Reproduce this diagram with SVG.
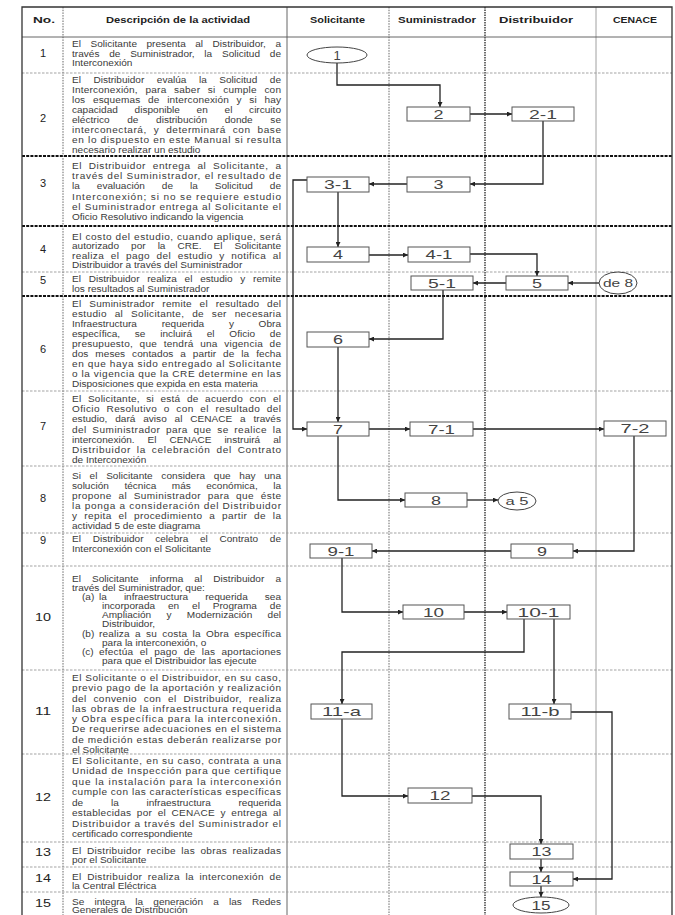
<svg xmlns="http://www.w3.org/2000/svg" width="675" height="915" viewBox="0 0 675 915">
<defs>
<marker id="ah" viewBox="0 0 6 6" refX="6" refY="3" markerWidth="5" markerHeight="5" markerUnits="userSpaceOnUse" orient="auto"><path d="M0,0 L6,3 L0,6 z" fill="#222"/></marker>
<style>
.bg{fill:#fff}
.border{fill:none;stroke:#333;stroke-width:1.3}
.vs{stroke:#555;stroke-width:0.9}
.vd{stroke:#555;stroke-width:0.9;stroke-dasharray:1.5 1.2}
.vdk{stroke:#222;stroke-width:1.3;stroke-dasharray:1.5 1}
.vl{stroke:#888;stroke-width:0.8}
.rt{stroke:#999;stroke-width:0.9;stroke-dasharray:2.5 1.5}
.rk{stroke:#111;stroke-width:1.8;stroke-dasharray:3 1.2}
.hd{font-family:"Liberation Sans",Arial,sans-serif;font-weight:bold;font-size:8.5px;fill:#222;text-anchor:middle}
.num{font-family:"Liberation Sans",Arial,sans-serif;font-size:11px;fill:#222;text-anchor:middle}
.d{font-family:"Liberation Sans",Arial,sans-serif;font-size:8.6px;fill:#3a3a3a}
.box rect{fill:#fff;stroke:#555;stroke-width:1}
.box ellipse{fill:#fff;stroke:#444;stroke-width:1}
.box text{font-family:"Liberation Sans",Arial,sans-serif;font-size:13px;fill:#444;text-anchor:middle}
.box text.s{font-size:10px}
.conn path{fill:none;stroke:#222;stroke-width:1.3;marker-end:url(#ah)}
</style>
</defs>
<rect class="bg" x="0" y="0" width="675" height="915"/>
<g id="grid">
<line class="vd" x1="63" y1="7" x2="63" y2="915"/>
<line class="vs" x1="287" y1="7" x2="287" y2="915"/>
<line class="vd" x1="389" y1="7" x2="389" y2="915"/>
<line class="vdk" x1="485" y1="7" x2="485" y2="915"/>
<line class="vl" x1="596" y1="7" x2="596" y2="915"/>
<line class="vs" x1="22" y1="37" x2="672" y2="37"/>
<line class="rt" x1="22" y1="73" x2="672" y2="73"/>
<line class="rk" x1="22" y1="156" x2="672" y2="156"/>
<line class="rk" x1="22" y1="226" x2="672" y2="226"/>
<line class="rt" x1="22" y1="272" x2="672" y2="272"/>
<line class="rk" x1="22" y1="296" x2="672" y2="296"/>
<line class="rt" x1="22" y1="391" x2="672" y2="391"/>
<line class="rt" x1="22" y1="466" x2="672" y2="466"/>
<line class="rt" x1="22" y1="533" x2="672" y2="533"/>
<line class="rt" x1="22" y1="566" x2="672" y2="566"/>
<line class="rt" x1="22" y1="670" x2="672" y2="670"/>
<line class="rt" x1="22" y1="754" x2="672" y2="754"/>
<line class="rt" x1="22" y1="842" x2="672" y2="842"/>
<line class="rt" x1="22" y1="867" x2="672" y2="867"/>
<line class="rt" x1="22" y1="892" x2="672" y2="892"/>
<path class="border" d="M22,915 V7 H672 V915"/>
</g>
<g id="header">
<text class="hd" x="44" y="23" textLength="22" lengthAdjust="spacingAndGlyphs">No.</text>
<text class="hd" x="178" y="23" textLength="144" lengthAdjust="spacingAndGlyphs">Descripción de la actividad</text>
<text class="hd" x="337.5" y="23" textLength="55" lengthAdjust="spacingAndGlyphs">Solicitante</text>
<text class="hd" x="437" y="23" textLength="78" lengthAdjust="spacingAndGlyphs">Suministrador</text>
<text class="hd" x="536" y="23" textLength="74" lengthAdjust="spacingAndGlyphs">Distribuidor</text>
<text class="hd" x="635" y="23" textLength="44" lengthAdjust="spacingAndGlyphs">CENACE</text>
</g>
<g id="numbers">
<text class="num" x="43" y="57">1</text>
<text class="num" x="43" y="122">2</text>
<text class="num" x="43" y="187">3</text>
<text class="num" x="43" y="253">4</text>
<text class="num" x="43" y="284">5</text>
<text class="num" x="43" y="353">6</text>
<text class="num" x="43" y="430">7</text>
<text class="num" x="43" y="502">8</text>
<text class="num" x="43" y="544">9</text>
<text class="num" x="43" y="621" textLength="16" lengthAdjust="spacingAndGlyphs">10</text>
<text class="num" x="43" y="715" textLength="16" lengthAdjust="spacingAndGlyphs">11</text>
<text class="num" x="43" y="801" textLength="16" lengthAdjust="spacingAndGlyphs">12</text>
<text class="num" x="43" y="856" textLength="16" lengthAdjust="spacingAndGlyphs">13</text>
<text class="num" x="43" y="882" textLength="16" lengthAdjust="spacingAndGlyphs">14</text>
<text class="num" x="43" y="907" textLength="16" lengthAdjust="spacingAndGlyphs">15</text>
</g>
<g id="descriptions" transform="scale(1.17,1)">
<g id="desc-1">
<text class="d" x="61.54" y="47.5" textLength="178.63" word-spacing="5.7">El Solicitante presenta al Distribuidor, a</text>
<text class="d" x="61.54" y="57" textLength="178.63" word-spacing="5.9">través de Suministrador, la Solicitud de</text>
<text class="d" x="61.54" y="66.5">Interconexión</text>
</g>
<g id="desc-2">
<text class="d" x="61.54" y="83.5" textLength="178.63" word-spacing="8.3">El Distribuidor evalúa la Solicitud de</text>
<text class="d" x="61.54" y="93.5" textLength="178.63" word-spacing="4">Interconexión, para saber si cumple con</text>
<text class="d" x="61.54" y="103.5" textLength="178.63" word-spacing="4">los esquemas de interconexión y si hay</text>
<text class="d" x="61.54" y="113.5" textLength="178.63" word-spacing="11.9">capacidad disponible en el circuito</text>
<text class="d" x="61.54" y="123.5" textLength="178.63" word-spacing="12.7">eléctrico de distribución donde se</text>
<text class="d" x="61.54" y="133.5" textLength="178.63" word-spacing="3">interconectará, y determinará con base</text>
<text class="d" x="61.54" y="143.5" textLength="178.63">en lo dispuesto en este Manual si resulta</text>
<text class="d" x="61.54" y="153.5">necesario realizar un estudio</text>
</g>
<g id="desc-3">
<text class="d" x="61.54" y="169" textLength="178.63" word-spacing="3">El Distribuidor entrega al Solicitante, a</text>
<text class="d" x="61.54" y="179.2" textLength="178.63">través del Suministrador, el resultado de</text>
<text class="d" x="61.54" y="189.4" textLength="178.63" word-spacing="12.1">la evaluación de la Solicitud de</text>
<text class="d" x="61.54" y="199.6" textLength="178.63">Interconexión; si no se requiere estudio</text>
<text class="d" x="61.54" y="209.8" textLength="178.63">el Suministrador entrega al Solicitante el</text>
<text class="d" x="61.54" y="220">Oficio Resolutivo indicando la vigencia</text>
</g>
<g id="desc-4">
<text class="d" x="61.54" y="240" textLength="178.63">El costo del estudio, cuando aplique, será</text>
<text class="d" x="61.54" y="249.5" textLength="178.63" word-spacing="7.9">autorizado por la CRE. El Solicitante</text>
<text class="d" x="61.54" y="259" textLength="178.63" word-spacing="3">realiza el pago del estudio y notifica al</text>
<text class="d" x="61.54" y="268.5">Distribuidor a través del Suministrador</text>
</g>
<g id="desc-5">
<text class="d" x="61.54" y="282" textLength="178.63" word-spacing="4.2">El Distribuidor realiza el estudio y remite</text>
<text class="d" x="61.54" y="292">los resultados al Suministrador</text>
</g>
<g id="desc-6">
<text class="d" x="61.54" y="307" textLength="178.63" word-spacing="4">El Suministrador remite el resultado del</text>
<text class="d" x="61.54" y="317" textLength="178.63" word-spacing="4">estudio al Solicitante, de ser necesaria</text>
<text class="d" x="61.54" y="327" textLength="178.63" word-spacing="18.7">Infraestructura requerida y Obra</text>
<text class="d" x="61.54" y="337" textLength="178.63" word-spacing="10.2">específica, se incluirá el Oficio de</text>
<text class="d" x="61.54" y="347" textLength="178.63" word-spacing="3">presupuesto, que tendrá una vigencia de</text>
<text class="d" x="61.54" y="357" textLength="178.63" word-spacing="3.5">dos meses contados a partir de la fecha</text>
<text class="d" x="61.54" y="367" textLength="178.63">en que haya sido entregado al Solicitante</text>
<text class="d" x="61.54" y="377" textLength="178.63">o la vigencia que la CRE determine en las</text>
<text class="d" x="61.54" y="387">Disposiciones que expida en esta materia</text>
</g>
<g id="desc-7">
<text class="d" x="61.54" y="402" textLength="178.63" word-spacing="3">El Solicitante, si está de acuerdo con el</text>
<text class="d" x="61.54" y="412.2" textLength="178.63" word-spacing="3">Oficio Resolutivo o con el resultado del</text>
<text class="d" x="61.54" y="422.4" textLength="178.63" word-spacing="4.3">estudio, dará aviso al CENACE a través</text>
<text class="d" x="61.54" y="432.6" textLength="178.63" word-spacing="2">del Suministrador para que se realice la</text>
<text class="d" x="61.54" y="442.8" textLength="178.63" word-spacing="8.7">interconexión. El CENACE instruirá al</text>
<text class="d" x="61.54" y="453" textLength="178.63" word-spacing="2">Distribuidor la celebración del Contrato</text>
<text class="d" x="61.54" y="463.2">de Interconexión</text>
</g>
<g id="desc-8">
<text class="d" x="61.54" y="479" textLength="178.63" word-spacing="5">Si el Solicitante considera que hay una</text>
<text class="d" x="61.54" y="489" textLength="178.63" word-spacing="10.8">solución técnica más económica, la</text>
<text class="d" x="61.54" y="499" textLength="178.63" word-spacing="3">propone al Suministrador para que éste</text>
<text class="d" x="61.54" y="509" textLength="178.63">la ponga a consideración del Distribuidor</text>
<text class="d" x="61.54" y="519" textLength="178.63" word-spacing="3">y repita el procedimiento a partir de la</text>
<text class="d" x="61.54" y="529">actividad 5 de este diagrama</text>
</g>
<g id="desc-9">
<text class="d" x="61.54" y="542" textLength="178.63" word-spacing="7.6">El Distribuidor celebra el Contrato de</text>
<text class="d" x="61.54" y="552.5">Interconexión con el Solicitante</text>
</g>
<g id="desc-10">
<text class="d" x="61.54" y="582" textLength="178.63" word-spacing="7.1">El Solicitante informa al Distribuidor a</text>
<text class="d" x="61.54" y="591.1">través del Suministrador, que:</text>
<text class="d" x="70.09" y="600.2">(a)</text>
<text class="d" x="84.62" y="600.2" textLength="155.56" word-spacing="12.2">la infraestructura requerida sea</text>
<text class="d" x="87.18" y="609.3" textLength="152.99" word-spacing="8.6">incorporada en el Programa de</text>
<text class="d" x="87.18" y="618.4" textLength="152.99" word-spacing="10.7">Ampliación y Modernización del</text>
<text class="d" x="87.18" y="627.5">Distribuidor,</text>
<text class="d" x="70.09" y="636.6">(b)</text>
<text class="d" x="84.62" y="636.6" textLength="155.56" word-spacing="2">realiza a su costa la Obra específica</text>
<text class="d" x="87.18" y="645.7">para la interconexión, o</text>
<text class="d" x="70.09" y="654.8">(c)</text>
<text class="d" x="84.62" y="654.8" textLength="155.56" word-spacing="3">efectúa el pago de las aportaciones</text>
<text class="d" x="87.18" y="663.9">para que el Distribuidor las ejecute</text>
</g>
<g id="desc-11">
<text class="d" x="61.54" y="681" textLength="178.63">El Solicitante o el Distribuidor, en su caso,</text>
<text class="d" x="61.54" y="691.3" textLength="178.63">previo pago de la aportación y realización</text>
<text class="d" x="61.54" y="701.6" textLength="178.63" word-spacing="3">del convenio con el Distribuidor, realiza</text>
<text class="d" x="61.54" y="711.9" textLength="178.63">las obras de la infraestructura requerida</text>
<text class="d" x="61.54" y="722.2" textLength="178.63">y Obra específica para la interconexión.</text>
<text class="d" x="61.54" y="732.5" textLength="178.63">De requerirse adecuaciones en el sistema</text>
<text class="d" x="61.54" y="742.8" textLength="178.63">de medición estas deberán realizarse por</text>
<text class="d" x="61.54" y="753">el Solicitante</text>
</g>
<g id="desc-12">
<text class="d" x="61.54" y="764" textLength="178.63">El Solicitante, en su caso, contrata a una</text>
<text class="d" x="61.54" y="774.5" textLength="178.63">Unidad de Inspección para que certifique</text>
<text class="d" x="61.54" y="785" textLength="178.63">que la instalación para la interconexión</text>
<text class="d" x="61.54" y="795.5" textLength="178.63">cumple con las características específicas</text>
<text class="d" x="61.54" y="806" textLength="178.63" word-spacing="21.3">de la infraestructura requerida</text>
<text class="d" x="61.54" y="816.5" textLength="178.63" word-spacing="2">establecidas por el CENACE y entrega al</text>
<text class="d" x="61.54" y="827" textLength="178.63">Distribuidor a través del Suministrador el</text>
<text class="d" x="61.54" y="837.5">certificado correspondiente</text>
</g>
<g id="desc-13">
<text class="d" x="61.54" y="854" textLength="178.63" word-spacing="2">El Distribuidor recibe las obras realizadas</text>
<text class="d" x="61.54" y="863">por el Solicitante</text>
</g>
<g id="desc-14">
<text class="d" x="61.54" y="880.5" textLength="178.63" word-spacing="2">El Distribuidor realiza la interconexión de</text>
<text class="d" x="61.54" y="889.5">la Central Eléctrica</text>
</g>
<g id="desc-15">
<text class="d" x="61.54" y="905" textLength="178.63" word-spacing="6.3">Se integra la generación a las Redes</text>
<text class="d" x="61.54" y="913.5">Generales de Distribución</text>
</g>
</g>
<g id="connectors" class="conn">
<path d="M337,63 V85 H440 V107"/>
<path d="M470,114 H512"/>
<path d="M543,121 V184 H470"/>
<path d="M407,184 H369"/>
<path d="M307,180 H293 V429 H307"/>
<path d="M338,192 V247"/>
<path d="M369,255 H408"/>
<path d="M470,254 H537 V276"/>
<path d="M506,283 H473"/>
<path d="M599,283 H568"/>
<path d="M443,290 V339 H369"/>
<path d="M338,347 V422"/>
<path d="M369,429 H410"/>
<path d="M473,429 H604"/>
<path d="M338,436 V500 H405"/>
<path d="M467,500 H498"/>
<path d="M634,436 V551 H573"/>
<path d="M511,551 H372"/>
<path d="M342,558 V612 H403"/>
<path d="M464,612 H507"/>
<path d="M524,619 V652 H342 V704"/>
<path d="M554,619 V704"/>
<path d="M571,712 H612 V879 H573"/>
<path d="M342,719 V796 H408"/>
<path d="M472,796 H541 V844"/>
<path d="M541,859 V872"/>
<path d="M541,886 V897"/>
</g>
<g id="n1" class="box"><ellipse cx="337" cy="55" rx="30" ry="8"/><text x="337" y="59.5">1</text></g>
<g id="n2" class="box"><rect x="407" y="107" width="63" height="14"/><text x="438.5" y="118.5" textLength="10" lengthAdjust="spacingAndGlyphs">2</text></g>
<g id="n2-1" class="box"><rect x="512" y="107" width="62" height="14"/><text x="543" y="118.5" textLength="28" lengthAdjust="spacingAndGlyphs">2-1</text></g>
<g id="n3" class="box"><rect x="407" y="177" width="63" height="15"/><text x="438.5" y="189" textLength="10" lengthAdjust="spacingAndGlyphs">3</text></g>
<g id="n3-1" class="box"><rect x="307" y="177" width="62" height="15"/><text x="338" y="189" textLength="28" lengthAdjust="spacingAndGlyphs">3-1</text></g>
<g id="n4" class="box"><rect x="307" y="247" width="62" height="15"/><text x="338" y="259" textLength="10" lengthAdjust="spacingAndGlyphs">4</text></g>
<g id="n4-1" class="box"><rect x="408" y="247" width="62" height="15"/><text x="439" y="259" textLength="27" lengthAdjust="spacingAndGlyphs">4-1</text></g>
<g id="n5" class="box"><rect x="506" y="276" width="62" height="14"/><text x="537" y="287.5" textLength="10" lengthAdjust="spacingAndGlyphs">5</text></g>
<g id="n5-1" class="box"><rect x="411" y="276" width="62" height="14"/><text x="442" y="287.5" textLength="28" lengthAdjust="spacingAndGlyphs">5-1</text></g>
<g id="nde8" class="box"><ellipse cx="618" cy="283" rx="19" ry="11"/><text class="s" x="618" y="286.5" textLength="30" lengthAdjust="spacingAndGlyphs">de 8</text></g>
<g id="n6" class="box"><rect x="307" y="332" width="62" height="15"/><text x="338" y="344" textLength="10" lengthAdjust="spacingAndGlyphs">6</text></g>
<g id="n7" class="box"><rect x="307" y="422" width="62" height="14"/><text x="338" y="433.5" textLength="10" lengthAdjust="spacingAndGlyphs">7</text></g>
<g id="n7-1" class="box"><rect x="410" y="422" width="63" height="14"/><text x="441.5" y="433.5" textLength="27" lengthAdjust="spacingAndGlyphs">7-1</text></g>
<g id="n7-2" class="box"><rect x="604" y="421" width="62" height="15"/><text x="635" y="433" textLength="29" lengthAdjust="spacingAndGlyphs">7-2</text></g>
<g id="n8" class="box"><rect x="405" y="493" width="62" height="14"/><text x="436" y="504.5" textLength="10" lengthAdjust="spacingAndGlyphs">8</text></g>
<g id="na5" class="box"><ellipse cx="517" cy="501" rx="19" ry="9"/><text class="s" x="517" y="504.5" textLength="23" lengthAdjust="spacingAndGlyphs">a 5</text></g>
<g id="n9" class="box"><rect x="511" y="544" width="62" height="14"/><text x="542" y="555.5" textLength="10" lengthAdjust="spacingAndGlyphs">9</text></g>
<g id="n9-1" class="box"><rect x="310" y="544" width="62" height="14"/><text x="341" y="555.5" textLength="27" lengthAdjust="spacingAndGlyphs">9-1</text></g>
<g id="n10" class="box"><rect x="403" y="605" width="61" height="14"/><text x="433.5" y="616.5" textLength="21" lengthAdjust="spacingAndGlyphs">10</text></g>
<g id="n10-1" class="box"><rect x="507" y="605" width="63" height="14"/><text x="538.5" y="616.5" textLength="42" lengthAdjust="spacingAndGlyphs">10-1</text></g>
<g id="n11-a" class="box"><rect x="311" y="704" width="61" height="15"/><text x="341.5" y="716" textLength="39" lengthAdjust="spacingAndGlyphs">11-a</text></g>
<g id="n11-b" class="box"><rect x="509" y="704" width="62" height="15"/><text x="540" y="716" textLength="39" lengthAdjust="spacingAndGlyphs">11-b</text></g>
<g id="n12" class="box"><rect x="408" y="788" width="64" height="15"/><text x="440" y="800" textLength="21" lengthAdjust="spacingAndGlyphs">12</text></g>
<g id="n13" class="box"><rect x="510" y="844" width="63" height="15"/><text x="541.5" y="856" textLength="20" lengthAdjust="spacingAndGlyphs">13</text></g>
<g id="n14" class="box"><rect x="510" y="872" width="63" height="14"/><text x="541.5" y="883.5" textLength="20" lengthAdjust="spacingAndGlyphs">14</text></g>
<g id="n15" class="box"><ellipse cx="541" cy="905" rx="28" ry="8"/><text x="541" y="909.5" textLength="19" lengthAdjust="spacingAndGlyphs">15</text></g>
</svg>
